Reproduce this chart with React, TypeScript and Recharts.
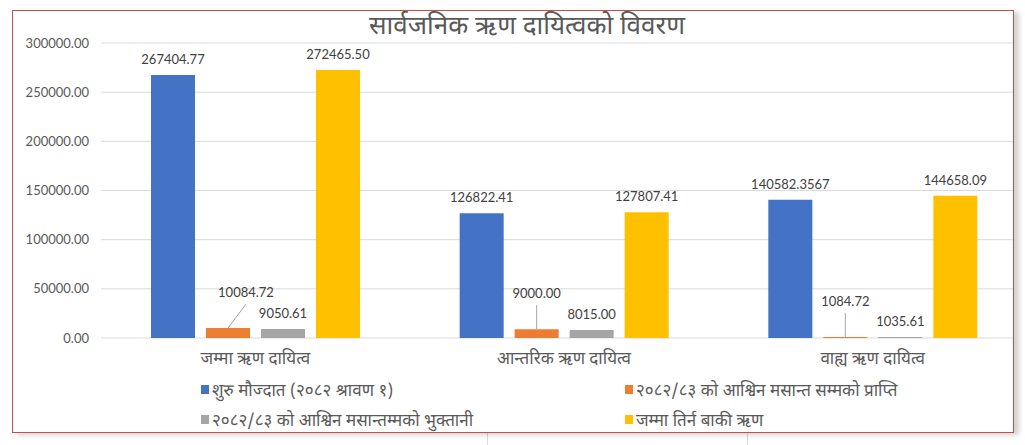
import React from 'react';
import { BarChart, Bar, XAxis, YAxis, CartesianGrid, LabelList } from 'recharts';

const categories = ['जम्मा ऋण दायित्व', 'आन्तरिक ऋण दायित्व', 'वाह्य ऋण दायित्व'];
const openingBalance = [267404.77, 126822.41, 140582.3567];
const receivedTillAshwin = [10084.72, 9000.0, 1084.72];
const repaidTillAshwin = [9050.61, 8015.0, 1035.61];
const outstandingTotal = [272465.5, 127807.41, 144658.09];
const yTicks = [0, 50000, 100000, 150000, 200000, 250000, 300000];

const seriesNames = [
    'शुरु मौज्दात (२०८२ श्रावण १)',
    '२०८२/८३ को आश्विन मसान्त सम्मको प्राप्ति',
    '२०८२/८३ को आश्विन मसान्तम्मको भुक्तानी',
    'जम्मा तिर्न बाकी ऋण',
];
const seriesColors = ['#4472C4', '#ED7D31', '#A5A5A5', '#FFC000'];
const seriesKeys = ['opening', 'received', 'repaid', 'outstanding'];

const data = categories.map((name, i) => ({
    name,
    opening: openingBalance[i],
    received: receivedTillAshwin[i],
    repaid: repaidTillAshwin[i],
    outstanding: outstandingTotal[i],
}));

const numFont = "Lato, 'Open Sans', sans-serif";
const devaFont = "'Noto Sans Devanagari', 'Lohit Devanagari', 'Noto Sans', sans-serif";

// keep 4 decimals when the source had them, otherwise 2
const fmt = (v: number) => {
    const s = String(v);
    const dec = s.split('.')[1];
    return dec && dec.length > 2 ? s : v.toFixed(2);
};

// orange labels sit higher with a leader line down to the bar
const CalloutLabel = (props: any) => {
    const { x, y, width, value, index } = props;
    const cx = x + width / 2;
    const dx = index === 0 ? 18 : 0;
    return (
        <g>
            <line x1={cx} y1={y} x2={cx + dx} y2={y - 24} stroke="#a6a6a6" strokeWidth={1} />
            <text x={cx + dx} y={y - 31} textAnchor="middle" fontSize={13} fill="#404040" fontFamily={numFont}>
                {fmt(value)}
            </text>
        </g>
    );
};

export default function App() {
    return (
        <div style={{ position: 'fixed', left: 0, top: 0, width: 1025, height: 445, background: '#fff', overflow: 'hidden' }}>
            <div style={{ position: 'absolute', left: 487, top: 432, width: 1, height: 13, background: '#dcdcdc' }} />
            <div style={{ position: 'absolute', left: 747, top: 432, width: 1, height: 13, background: '#dcdcdc' }} />
            <div
                style={{
                    position: 'absolute',
                    left: 12,
                    top: 10,
                    width: 1000,
                    height: 421,
                    border: '1px solid #c0504d',
                    boxShadow: '5px 2px 5px rgba(0,0,0,0.18)',
                    overflow: 'hidden',
                    background: '#fff',
                }}
            >
                <div style={{ position: 'absolute', left: -12, top: -10 }}>
                    <BarChart
                        width={1040}
                        height={445}
                        data={data}
                        margin={{ top: 42, right: 14, bottom: 0, left: 12 }}
                        barSize={44}
                        barGap={11}
                    >
                        <CartesianGrid vertical={false} stroke="#d9d9d9" />
                        <XAxis
                            dataKey="name"
                            axisLine={false}
                            tickLine={false}
                            tickSize={0}
                            tickMargin={14}
                            height={108}
                            interval={0}
                            tick={{ fontSize: 17, fill: '#595959', fontFamily: devaFont }}
                        />
                        <YAxis
                            domain={[0, 300000]}
                            ticks={yTicks}
                            axisLine={false}
                            tickLine={false}
                            tickSize={0}
                            tickMargin={12}
                            width={88}
                            tickFormatter={(v: number) => v.toFixed(2)}
                            tick={{ fontSize: 13, fill: '#595959', fontFamily: numFont }}
                        />
                        {seriesKeys.map((key, i) => (
                            <Bar key={key} dataKey={key} fill={seriesColors[i]} isAnimationActive={false}>
                                {i === 1 ? (
                                    <LabelList dataKey={key} content={CalloutLabel} />
                                ) : (
                                    <LabelList
                                        dataKey={key}
                                        position="top"
                                        offset={11}
                                        formatter={(v: any) => fmt(Number(v))}
                                        style={{ fontSize: 13, fill: '#404040', fontFamily: numFont }}
                                    />
                                )}
                            </Bar>
                        ))}
                    </BarChart>
                </div>
                <div
                    style={{
                        position: 'absolute',
                        left: 0,
                        right: 0,
                        top: 0,
                        textAlign: 'center',
                        paddingLeft: 28,
                        fontSize: 26,
                        color: '#595959',
                        fontFamily: devaFont,
                    }}
                >
                    सार्वजनिक ऋण दायित्वको विवरण
                </div>
                <div
                    style={{
                        position: 'absolute',
                        left: 188,
                        top: 368,
                        width: 790,
                        display: 'grid',
                        gridTemplateColumns: '424px 366px',
                        rowGap: 5,
                        fontFamily: devaFont,
                        fontSize: 17,
                        color: '#595959',
                    }}
                >
                    {seriesNames.map((name, i) => (
                        <div key={name} style={{ display: 'flex', alignItems: 'center', whiteSpace: 'nowrap', height: 25 }}>
                            <span style={{ width: 8, height: 9, background: seriesColors[i], marginRight: 3, marginTop: -5 }} />
                            {name}
                        </div>
                    ))}
                </div>
            </div>
        </div>
    );
}
